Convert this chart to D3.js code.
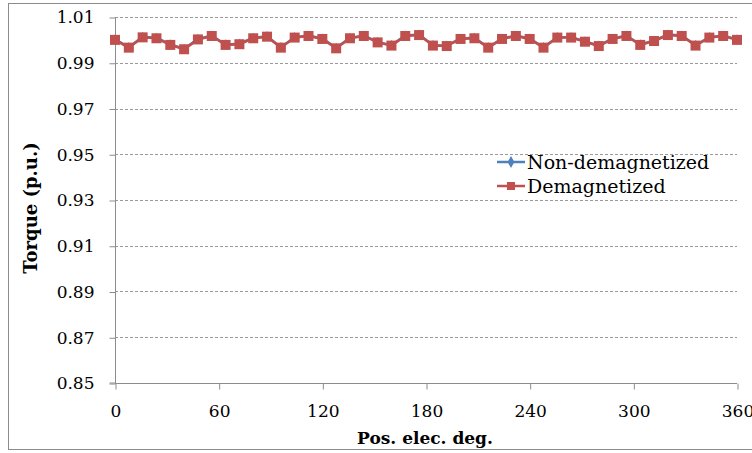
<!DOCTYPE html>
<html>
<head>
<meta charset="utf-8">
<script src="https://cdn.jsdelivr.net/npm/d3@7"></script>
<style>
html,body{margin:0;padding:0;background:#fff;}
svg{display:block;}
</style>
</head>
<body>
<svg id="chart" width="752" height="453"></svg>
<script>
const positions = [0,8,16,24,32,40,48,56,64,72,80,88,96,104,112,120,128,136,144,152,160,168,176,184,192,200,208,216,224,232,240,248,256,264,272,280,288,296,304,312,320,328,336,344,352,360];
const demagnetized = [1.0000,0.9966,1.0011,1.0007,0.9978,0.9959,1.0002,1.0017,0.9978,0.9981,1.0007,1.0014,0.9966,1.0010,1.0017,1.0004,0.9963,1.0007,1.0017,0.9989,0.9975,1.0017,1.0021,0.9975,0.9973,1.0004,1.0007,0.9966,1.0004,1.0017,1.0004,0.9966,1.0010,1.0010,0.9992,0.9973,1.0004,1.0017,0.9978,0.9995,1.0021,1.0017,0.9975,1.0010,1.0017,1.0000];
const nonDemagnetized = [1.0002,0.9968,1.0013,1.0009,0.9980,0.9961,1.0004,1.0019,0.9980,0.9983,1.0009,1.0016,0.9968,1.0012,1.0019,1.0006,0.9965,1.0009,1.0019,0.9991,0.9977,1.0019,1.0023,0.9977,0.9975,1.0006,1.0009,0.9968,1.0006,1.0019,1.0006,0.9968,1.0012,1.0012,0.9994,0.9975,1.0006,1.0019,0.9980,0.9997,1.0023,1.0019,0.9977,1.0012,1.0019,1.0002];
const xTicks = [0,60,120,180,240,300,360];
const yTicks = [0.85,0.87,0.89,0.91,0.93,0.95,0.97,0.99,1.01];
const seriesNames = ["Non-demagnetized","Demagnetized"];
const colors = ["#4F81BD","#C0504D"];

const svg = d3.select("#chart");
const font = "'DejaVu Serif', serif";
const L = 115, R = 737, T = 17, B = 383;

// outer frame
svg.append("rect").attr("x",8.5).attr("y",3.5).attr("width",760).attr("height",446)
  .attr("fill","#fff").attr("stroke","#8c8c8c").attr("stroke-width",1);

const x = d3.scaleLinear().domain([0,360]).range([L,R]);
const y = d3.scaleLinear().domain([0.85,1.01]).range([B,T]);

// gridlines
svg.append("g").selectAll("line").data(yTicks.filter(d=>d>0.851)).join("line")
  .attr("x1",L).attr("x2",R)
  .attr("y1",d=>Math.round(y(d))+0.5).attr("y2",d=>Math.round(y(d))+0.5)
  .attr("stroke","#9a9a9a").attr("stroke-dasharray","3,2").attr("stroke-width",1);

// y axis
const yAxis = d3.axisLeft(y).tickValues(yTicks).tickFormat(d3.format(".2f")).tickSize(6).tickPadding(15);
const gy = svg.append("g").attr("transform",`translate(${L+0.5},0.5)`).call(yAxis);
gy.select(".domain").attr("stroke","#8c8c8c").attr("d",`M-6,${B-0.5}H0V${T-0.5}`);
gy.selectAll(".tick line").attr("stroke","#8c8c8c");
gy.selectAll("text").attr("font-family",font).attr("font-size",17).attr("fill","#000");

// x axis
const xAxis = d3.axisBottom(x).tickValues(xTicks).tickFormat(d3.format("d")).tickSize(6).tickPadding(15);
const gx = svg.append("g").attr("transform",`translate(0.5,${B+0.5})`).call(xAxis);
gx.select(".domain").attr("stroke","#8c8c8c").attr("d",`M${L-0.5},0H${R-0.5}`);
gx.selectAll(".tick line").attr("stroke","#8c8c8c");
gx.selectAll("text").attr("font-family",font).attr("font-size",17).attr("fill","#000");

// axis titles
svg.append("text").attr("x",425).attr("y",444).attr("text-anchor","middle")
  .attr("font-family",font).attr("font-size",17).attr("font-weight","bold").text("Pos. elec. deg.");
svg.append("text").attr("transform",`translate(37,${(T+B)/2 + 8}) rotate(-90)`).attr("text-anchor","middle")
  .attr("font-family",font).attr("font-size",18).attr("font-weight","bold").text("Torque (p.u.)");

const line = d3.line().x((d,i)=>x(positions[i])).y(d=>y(d));

// blue series
svg.append("path").datum(nonDemagnetized).attr("d",line).attr("fill","none")
  .attr("stroke",colors[0]).attr("stroke-width",2.5);
svg.append("g").selectAll("path").data(nonDemagnetized).join("path")
  .attr("d",d3.symbol().type(d3.symbolDiamond).size(30))
  .attr("transform",(d,i)=>`translate(${x(positions[i])},${y(d)})`).attr("fill",colors[0]);

// red series
svg.append("path").datum(demagnetized).attr("d",line).attr("fill","none")
  .attr("stroke",colors[1]).attr("stroke-width",2.5);
svg.append("g").selectAll("rect").data(demagnetized).join("rect")
  .attr("x",(d,i)=>x(positions[i])-5).attr("y",d=>y(d)-5)
  .attr("width",10).attr("height",10).attr("fill",colors[1]);

// legend
const lg = svg.append("g");
seriesNames.forEach((name,i)=>{
  const ly = 162 + i*24;
  lg.append("line").attr("x1",497).attr("x2",525).attr("y1",ly).attr("y2",ly)
    .attr("stroke",colors[i]).attr("stroke-width",2.5);
  if(i===0){
    lg.append("path").attr("d",d3.symbol().type(d3.symbolDiamond).size(40))
      .attr("transform",`translate(511,${ly})`).attr("fill",colors[i]);
  } else {
    lg.append("rect").attr("x",507).attr("y",ly-4).attr("width",8).attr("height",8).attr("fill",colors[i]);
  }
  lg.append("text").attr("x",527).attr("y",ly+7).attr("font-family",font).attr("font-size",19)
    .attr("fill","#000").text(name);
});
</script>
</body>
</html>
